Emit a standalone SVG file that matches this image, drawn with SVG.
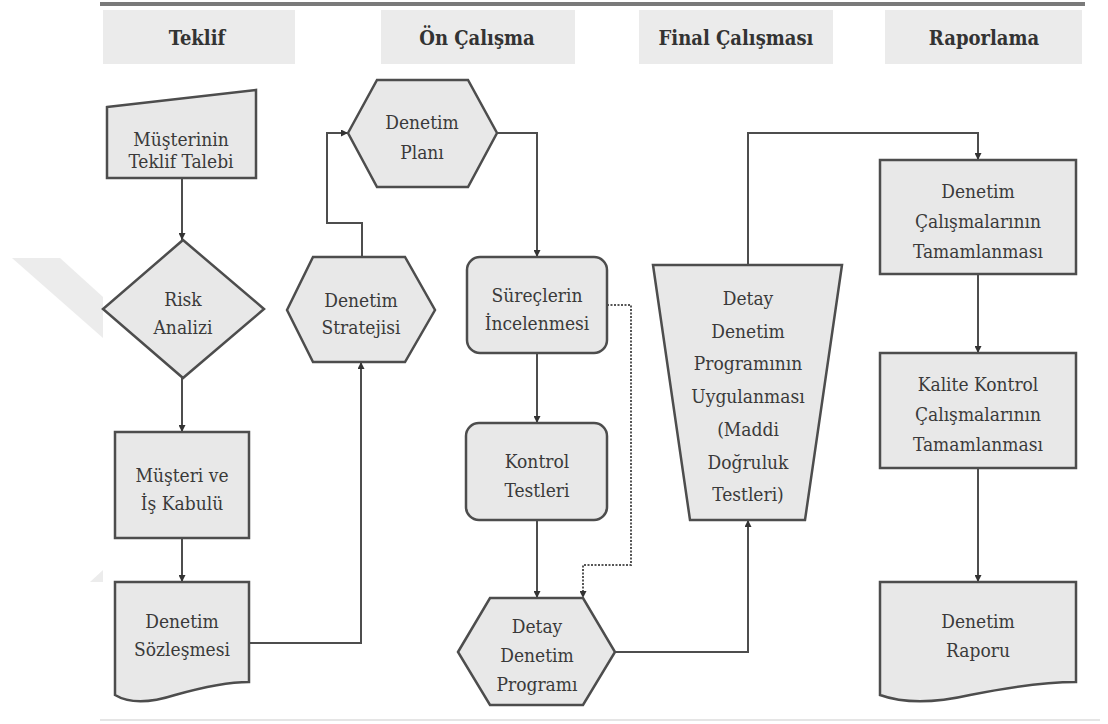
<svg xmlns="http://www.w3.org/2000/svg" width="1108" height="724" viewBox="0 0 1108 724">
<defs>
<style>
.hdr{fill:#ebebeb;stroke:none}
.ht{font-family:'DejaVu Serif Condensed','DejaVu Serif',serif;font-weight:bold;font-size:20px;fill:#333;text-anchor:middle}
.nd{fill:#e8e8e8;stroke:#4d4d4d;stroke-width:2.5;stroke-linejoin:miter}
.t{font-family:'DejaVu Serif Condensed','DejaVu Serif',serif;font-size:19px;fill:#3a3a3a;text-anchor:middle}
.c{fill:none;stroke:#4d4d4d;stroke-width:2}
.d{fill:none;stroke:#555;stroke-width:2;stroke-dasharray:2 1.5}
.wm{fill:#ececec;stroke:none}
</style>
<marker id="ah" viewBox="0 0 8 8" refX="8" refY="4" markerWidth="7" markerHeight="7" markerUnits="userSpaceOnUse" orient="auto">
<path d="M0,0 L8,4 L0,8 Z" fill="#333"/>
</marker>
</defs>
<rect width="1108" height="724" fill="#ffffff"/>
<polygon class="wm" points="12,258 60,258 103,297 103,338"/>
<polygon class="wm" points="103,570 90,582 103,582"/>
<line x1="100" y1="4" x2="1085" y2="4" stroke="#7a7a7a" stroke-width="4"/>
<line x1="100" y1="720" x2="1100" y2="720" stroke="#dddddd" stroke-width="1.5"/>
<g id="header">
<rect class="hdr" x="103" y="10" width="192" height="54"/>
<rect class="hdr" x="381" y="10" width="194" height="54"/>
<rect class="hdr" x="639" y="10" width="194" height="54"/>
<rect class="hdr" x="885" y="10" width="197" height="54"/>
<text class="ht" x="197" y="45">Teklif</text>
<text class="ht" x="477" y="45">Ön Çalışma</text>
<text class="ht" x="736" y="45">Final Çalışması</text>
<text class="ht" x="984" y="45">Raporlama</text>
</g>
<g id="connectors">
<path class="c" d="M182,178 V240" marker-end="url(#ah)"/>
<path class="c" d="M182,378 V432" marker-end="url(#ah)"/>
<path class="c" d="M182,538 V582" marker-end="url(#ah)"/>
<path class="c" d="M249,643 H361 V362" marker-end="url(#ah)"/>
<path class="c" d="M362,257 V223 H327 V133 H348" marker-end="url(#ah)"/>
<path class="c" d="M497,133 H537 V257" marker-end="url(#ah)"/>
<path class="c" d="M537,353 V423" marker-end="url(#ah)"/>
<path class="c" d="M537,520 V598" marker-end="url(#ah)"/>
<path class="d" d="M607,305 H631 V565 H583 V598" marker-end="url(#ah)"/>
<path class="c" d="M615,652 H748 V520" marker-end="url(#ah)"/>
<path class="c" d="M748,265 V133 H978 V160" marker-end="url(#ah)"/>
<path class="c" d="M978,274 V353" marker-end="url(#ah)"/>
<path class="c" d="M978,468 V582" marker-end="url(#ah)"/>
</g>
<g id="n-musterinin">
<path class="nd" d="M107,107 L256,90 L256,178 L107,178 Z"/>
<text class="t" x="181" y="146">Müşterinin</text>
<text class="t" x="181" y="168">Teklif Talebi</text>
</g>
<g id="n-risk">
<path class="nd" d="M183,240 L264,309 L183,378 L103,309 Z"/>
<text class="t" x="183" y="306">Risk</text>
<text class="t" x="183" y="334">Analizi</text>
</g>
<g id="n-musteri">
<rect class="nd" x="115" y="432" width="134" height="106"/>
<text class="t" x="182" y="482">Müşteri ve</text>
<text class="t" x="182" y="510">İş Kabulü</text>
</g>
<g id="n-sozlesme">
<path class="nd" d="M115,582 H249 V682 C228,682 200,688 175,695 C150,703 130,704 115,695 Z"/>
<text class="t" x="182" y="628">Denetim</text>
<text class="t" x="182" y="656">Sözleşmesi</text>
</g>
<g id="n-strateji">
<path class="nd" d="M287,310 L313,257 L405,257 L435,310 L405,362 L313,362 Z"/>
<text class="t" x="361" y="307">Denetim</text>
<text class="t" x="361" y="334">Stratejisi</text>
</g>
<g id="n-plan">
<path class="nd" d="M348,133 L377,80 L468,80 L497,133 L468,187 L377,187 Z"/>
<text class="t" x="422" y="129">Denetim</text>
<text class="t" x="422" y="159">Planı</text>
</g>
<g id="n-surec">
<rect class="nd" x="467" y="257" width="140" height="96" rx="13"/>
<text class="t" x="537" y="302">Süreçlerin</text>
<text class="t" x="537" y="330">İncelenmesi</text>
</g>
<g id="n-kontrol">
<rect class="nd" x="466" y="423" width="141" height="97" rx="13"/>
<text class="t" x="537" y="468">Kontrol</text>
<text class="t" x="537" y="497">Testleri</text>
</g>
<g id="n-detayprog">
<path class="nd" d="M458,652 L490,598 L583,598 L615,652 L583,705 L490,705 Z"/>
<text class="t" x="537" y="633">Detay</text>
<text class="t" x="537" y="662">Denetim</text>
<text class="t" x="537" y="691">Programı</text>
</g>
<g id="n-uygulama">
<path class="nd" d="M653,265 L842,265 L805,520 L690,520 Z"/>
<text class="t" x="748" y="305">Detay</text>
<text class="t" x="748" y="338">Denetim</text>
<text class="t" x="748" y="370">Programının</text>
<text class="t" x="748" y="403">Uygulanması</text>
<text class="t" x="748" y="436">(Maddi</text>
<text class="t" x="748" y="469">Doğruluk</text>
<text class="t" x="748" y="501">Testleri)</text>
</g>
<g id="n-tamam">
<rect class="nd" x="880" y="160" width="196" height="114"/>
<text class="t" x="978" y="198">Denetim</text>
<text class="t" x="978" y="228">Çalışmalarının</text>
<text class="t" x="978" y="258">Tamamlanması</text>
</g>
<g id="n-kalite">
<rect class="nd" x="880" y="353" width="196" height="115"/>
<text class="t" x="978" y="391">Kalite Kontrol</text>
<text class="t" x="978" y="421">Çalışmalarının</text>
<text class="t" x="978" y="451">Tamamlanması</text>
</g>
<g id="n-rapor">
<path class="nd" d="M880,582 H1076 V682 C1045,682 1005,688 970,695 C935,703 905,704 880,695 Z"/>
<text class="t" x="978" y="628">Denetim</text>
<text class="t" x="978" y="657">Raporu</text>
</g>
</svg>
